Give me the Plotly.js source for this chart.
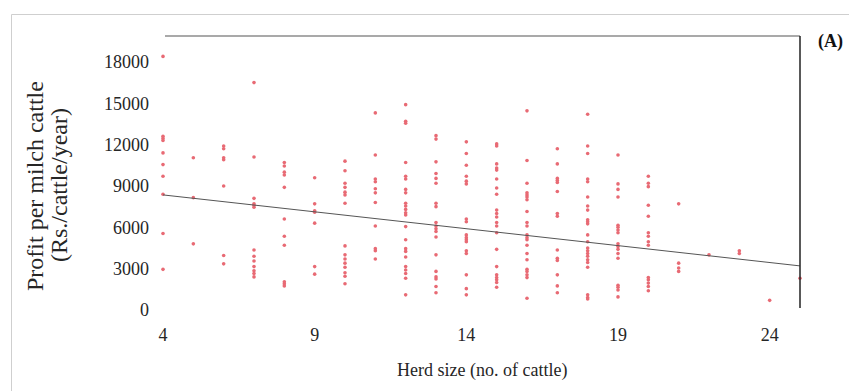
<!DOCTYPE html>
<html>
<head>
<meta charset="utf-8">
<script src="https://cdn.plot.ly/plotly-3.0.1.min.js"></script>
<style>
  html, body { margin: 0; padding: 0; background: #fff; }
  #chart { width: 849px; height: 391px; }
</style>
</head>
<body>
<div id="chart"></div>
<script>
// Herd size (no. of cattle) categories
const herdSizes = [4, 5, 6, 7, 8, 9, 10, 11, 12, 13, 14, 15, 16, 17, 18, 19, 20, 21, 22, 23, 24, 25];

// Profit per milch cattle (Rs./cattle/year), one list per herd size
const profitsByHerd = [
  [18400, 12600, 12450, 12300, 11400, 10550, 9700, 8400, 5550, 2950],
  [11050, 8150, 4800],
  [11900, 11700, 11050, 10900, 9000, 3950, 3350],
  [16500, 11100, 8100, 7700, 7600, 7450, 4350, 3900, 3550, 3150, 2850, 2650, 2400],
  [10700, 10450, 10000, 9800, 8900, 6600, 5350, 4700, 2050, 1900, 1750],
  [9600, 7700, 7200, 7100, 6300, 3150, 2600],
  [10800, 10100, 9200, 8900, 8550, 8350, 7750, 4650, 4000, 3700, 3400, 3100, 2700, 2450, 1900],
  [14300, 11250, 9500, 9300, 8800, 8500, 7800, 6100, 4450, 4300, 3700],
  [14900, 13700, 13550, 10700, 9700, 9500, 8750, 8500, 7750, 7550, 7300, 7050, 6900, 6050, 5100, 4450, 4250, 3850, 3150, 2900, 2650, 2300, 1100],
  [12650, 12400, 10750, 9900, 9550, 9200, 7750, 7500, 6350, 6100, 5900, 5700, 5300, 4000, 2800, 2400, 2250, 1700, 1250],
  [12200, 11350, 10500, 9700, 9350, 9150, 6600, 6400, 5450, 5250, 5100, 4950, 4300, 4100, 2550, 1550, 1100],
  [12050, 11900, 10600, 10300, 10150, 9500, 8850, 8400, 7250, 7000, 6750, 6350, 6100, 5600, 4400, 3150, 2550, 2350, 2200, 2000, 1650],
  [14450, 10850, 9200, 8500, 8350, 8200, 8000, 7150, 6350, 6100, 5450, 5250, 5100, 4700, 4100, 3650, 2950, 2800, 2550, 2350, 850],
  [11700, 10600, 9550, 9400, 9250, 8600, 7000, 6800, 4350, 3750, 3600, 2550, 1750, 1250],
  [14200, 11900, 11350, 9500, 9300, 8200, 7550, 7250, 6550, 6400, 6250, 5450, 4950, 4500, 4300, 4100, 3900, 3650, 3450, 3100, 1100, 900, 800],
  [11250, 9150, 8750, 8200, 6150, 6000, 5800, 5600, 4800, 4600, 4400, 4100, 3750, 1800, 1650, 1450, 950],
  [9700, 9200, 8950, 7600, 6800, 5600, 5350, 4950, 4700, 2350, 2200, 1950, 1700, 1400],
  [7700, 3400, 3050, 2800],
  [4000],
  [4300, 4100],
  [700],
  [2300]
];

// Linear trend line (end points)
const trendX = [4, 25];
const trendY = [8350, 3200];

// Tick values
const xTicks = [4, 9, 14, 19, 24];
const yTicks = [0, 3000, 6000, 9000, 12000, 15000, 18000];

const ptsX = [], ptsY = [];
herdSizes.forEach((h, i) => {
  profitsByHerd[i].forEach(v => { ptsX.push(h); ptsY.push(v); });
});

const FONT = '"Liberation Serif", "Times New Roman", serif';
const TXT = '#262626';

const traces = [
  {
    type: 'scatter', mode: 'markers', x: ptsX, y: ptsY,
    marker: { color: '#e86a74', size: 3.6 },
    cliponaxis: false, hoverinfo: 'x+y', showlegend: false
  },
  {
    type: 'scatter', mode: 'lines', x: trendX, y: trendY,
    line: { color: '#555', width: 1 },
    cliponaxis: false, showlegend: false
  }
];

// plot area in px: left 163, right 800, top 36, bottom 310
const PW = 637, PH = 274;
const px = x => (x - 163) / PW;
const py = y => (310 - y) / PH;

const layout = {
  width: 849, height: 391,
  margin: { l: 163, r: 49, t: 36, b: 81, pad: 0 },
  paper_bgcolor: '#fff', plot_bgcolor: '#fff',
  font: { family: FONT, color: TXT, size: 18 },
  showlegend: false,
  xaxis: {
    range: [4, 25], tickvals: xTicks, ticktext: xTicks.map(String),
    showgrid: false, zeroline: false, showline: false, ticks: '',
    ticklabelstandoff: 12, tickfont: { family: FONT, size: 18, color: TXT }
  },
  yaxis: {
    range: [0, 19880], tickvals: yTicks, ticktext: yTicks.map(String),
    showgrid: false, zeroline: false, showline: false, ticks: '',
    ticklabelstandoff: 13, tickfont: { family: FONT, size: 18, color: TXT }
  },
  shapes: [
    // outer light frame (left, top)
    { type: 'line', xref: 'paper', yref: 'paper', x0: px(11.5), x1: px(849), y0: py(14.5), y1: py(14.5), line: { color: '#cfcfcf', width: 1 } },
    { type: 'line', xref: 'paper', yref: 'paper', x0: px(11.5), x1: px(11.5), y0: py(14.5), y1: py(391), line: { color: '#cfcfcf', width: 1 } },
    // plot frame: top and right
    { type: 'line', xref: 'paper', yref: 'paper', x0: px(165), x1: 1, y0: 1, y1: 1, line: { color: '#555', width: 1.2 } },
    { type: 'line', xref: 'paper', yref: 'paper', x0: 1, x1: 1, y0: py(308), y1: 1, line: { color: '#222', width: 1.5 } }
  ],
  annotations: [
    { text: 'Herd size (no. of cattle)', xref: 'paper', yref: 'paper', x: 0.5, y: py(370),
      xanchor: 'center', yanchor: 'middle', showarrow: false, font: { family: FONT, size: 18, color: TXT } },
    { text: 'Profit per milch cattle', xref: 'paper', yref: 'paper', x: px(35), y: py(186),
      xanchor: 'center', yanchor: 'middle', textangle: -90, showarrow: false, font: { family: FONT, size: 24, color: TXT } },
    { text: '(Rs./cattle/year)', xref: 'paper', yref: 'paper', x: px(59), y: py(185),
      xanchor: 'center', yanchor: 'middle', textangle: -90, showarrow: false, font: { family: FONT, size: 24, color: TXT } },
    { text: '<b>(A)</b>', xref: 'paper', yref: 'paper', x: px(830), y: py(41),
      xanchor: 'center', yanchor: 'middle', showarrow: false, font: { family: FONT, size: 18, color: '#111' } }
  ]
};

Plotly.newPlot('chart', traces, layout, { displayModeBar: false, staticPlot: true });
</script>
</body>
</html>
